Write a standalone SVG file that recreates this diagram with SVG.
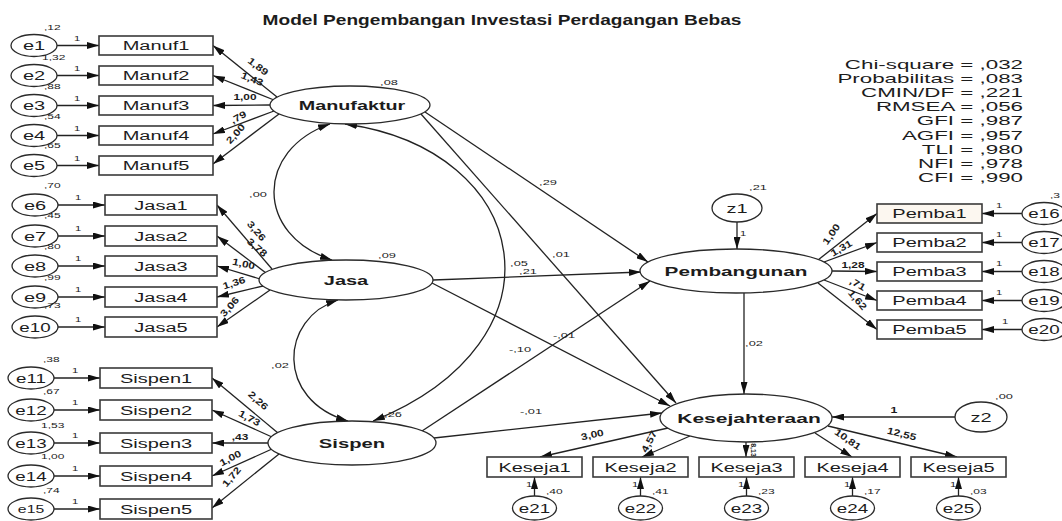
<svg xmlns="http://www.w3.org/2000/svg" width="1062" height="521" viewBox="0 0 1062 521">
<defs>
<style>
text{font-family:"Liberation Sans",Arial,Helvetica,sans-serif;fill:#1c1c1c}
.n{font-size:12.5px;text-anchor:middle}
.b{font-size:12.5px;font-weight:bold;text-anchor:middle}
.s{font-size:8px}
.sm{font-size:8px;text-anchor:middle}
.l{font-size:9.5px;font-weight:bold;text-anchor:middle}
.st{font-size:13px;text-anchor:end}
.box{fill:#fff;stroke:#3a3a3a;stroke-width:1.6}
.ov{fill:#fff;stroke:#2a2a2a;stroke-width:1.3}
.c{fill:none;stroke:#222;stroke-width:1.3;marker-end:url(#ah)}
.cv{fill:none;stroke:#222;stroke-width:1.3;marker-end:url(#ah);marker-start:url(#ah)}
</style>
<marker id="ah" markerUnits="userSpaceOnUse" markerWidth="12" markerHeight="7" refX="12" refY="3.5" orient="auto-start-reverse">
<path d="M0,0 L12,3.5 L0,7 z" fill="#111"/>
</marker>
</defs>
<rect width="1062" height="521" fill="#fff"/>

<text class="b" transform="translate(502 25) scale(1.275 1)" style="font-size:15px">Model Pengembangan Investasi Perdagangan Bebas</text>

<g id="fit" transform="translate(1023 0) scale(1.72 1)">
<text class="st" x="0" y="69">Chi-square = ,032</text>
<text class="st" x="0" y="83">Probabilitas = ,083</text>
<text class="st" x="0" y="97">CMIN/DF = ,221</text>
<text class="st" x="0" y="111.5">RMSEA = ,056</text>
<text class="st" x="0" y="125.5">GFI = ,987</text>
<text class="st" x="0" y="140">AGFI = ,957</text>
<text class="st" x="0" y="154">TLI = ,980</text>
<text class="st" x="0" y="168">NFI = ,978</text>
<text class="st" x="0" y="182.5">CFI = ,990</text>
</g>

<g id="connectors">
<path class="c" d="M57,45.5 H99"/>
<path class="c" d="M57,75.5 H99"/>
<path class="c" d="M57,105.5 H99"/>
<path class="c" d="M57,135.5 H99"/>
<path class="c" d="M57,165.5 H99"/>
<path class="c" d="M58,205 H105"/>
<path class="c" d="M58,236 H105"/>
<path class="c" d="M58,266 H105"/>
<path class="c" d="M58,297 H105"/>
<path class="c" d="M58,327 H105"/>
<path class="c" d="M54,378 H100"/>
<path class="c" d="M54,410 H100"/>
<path class="c" d="M54,443 H100"/>
<path class="c" d="M54,476 H100"/>
<path class="c" d="M54,509 H100"/>
<path class="c" d="M1022,213.5 H982"/>
<path class="c" d="M1022,242.5 H982"/>
<path class="c" d="M1022,271.5 H982"/>
<path class="c" d="M1022,300.5 H982"/>
<path class="c" d="M1022,329.5 H982"/>
<path class="c" d="M534.5,496 V477"/>
<path class="c" d="M640.5,496 V477"/>
<path class="c" d="M746.5,496 V477"/>
<path class="c" d="M852.5,496 V477"/>
<path class="c" d="M958.5,496 V477"/>
<path class="c" d="M277,97 L213,45.5"/>
<path class="c" d="M274,100 L213,75.5"/>
<path class="c" d="M270,105 L213,105.5"/>
<path class="c" d="M274,111 L213,134"/>
<path class="c" d="M279,114 L213,164"/>
<path class="c" d="M272,269 L217,205"/>
<path class="c" d="M266,273 L217,236"/>
<path class="c" d="M260,279 L217,266"/>
<path class="c" d="M263,286 L217,297"/>
<path class="c" d="M270,290 L217,327"/>
<path class="c" d="M278,433 L212,378"/>
<path class="c" d="M272,437 L212,410"/>
<path class="c" d="M268,443 L212,443"/>
<path class="c" d="M272,449 L212,476"/>
<path class="c" d="M279,454 L212,508"/>
<path class="c" d="M818,260 L877,213.5"/>
<path class="c" d="M824,262 L877,242.5"/>
<path class="c" d="M832,271 L877,271.5"/>
<path class="c" d="M824,280 L877,300.5"/>
<path class="c" d="M818,283 L877,329.5"/>
<path class="c" d="M668,428 L540,457"/>
<path class="c" d="M690,436 L642,457"/>
<path class="c" d="M746,442 L746,457"/>
<path class="c" d="M815,433 L852,457"/>
<path class="c" d="M828,426 L957,457"/>
<path class="c" d="M425,112 L648,262"/>
<path class="c" d="M421,114 L676,403"/>
<path class="c" d="M433,280 L641,272"/>
<path class="c" d="M432,283 L670,406"/>
<path class="c" d="M422,431 L650,281"/>
<path class="c" d="M434,438 L662,413"/>
<path class="c" d="M744,293 L744,394"/>
<path class="c" d="M737,222 L737,249"/>
<path class="c" d="M955,417 L832,417"/>
<path class="cv" d="M330,124 C255,150 255,235 332,260"/>
<path class="cv" d="M338,300 C280,318 275,400 348,421"/>
<path class="cv" d="M345,124 C532,150 572,340 373,421"/>
</g>

<g id="conn-labels">
<text class="sm" transform="translate(77 41) scale(1.4 1)">1</text>
<text class="sm" transform="translate(77 71) scale(1.4 1)">1</text>
<text class="sm" transform="translate(77 101) scale(1.4 1)">1</text>
<text class="sm" transform="translate(77 131) scale(1.4 1)">1</text>
<text class="sm" transform="translate(77 161) scale(1.4 1)">1</text>
<text class="sm" transform="translate(78 200) scale(1.4 1)">1</text>
<text class="sm" transform="translate(78 231) scale(1.4 1)">1</text>
<text class="sm" transform="translate(78 261) scale(1.4 1)">1</text>
<text class="sm" transform="translate(78 292) scale(1.4 1)">1</text>
<text class="sm" transform="translate(78 322) scale(1.4 1)">1</text>
<text class="sm" transform="translate(75 373) scale(1.4 1)">1</text>
<text class="sm" transform="translate(75 405) scale(1.4 1)">1</text>
<text class="sm" transform="translate(75 438) scale(1.4 1)">1</text>
<text class="sm" transform="translate(75 471) scale(1.4 1)">1</text>
<text class="sm" transform="translate(75 504) scale(1.4 1)">1</text>
<text class="sm" transform="translate(999 208) scale(1.4 1)">1</text>
<text class="sm" transform="translate(999 237) scale(1.4 1)">1</text>
<text class="sm" transform="translate(999 266) scale(1.4 1)">1</text>
<text class="sm" transform="translate(999 295) scale(1.4 1)">1</text>
<text class="sm" transform="translate(1005 324) scale(1.4 1)">1</text>
<text class="sm" transform="translate(529 487) scale(1.4 1)">1</text>
<text class="sm" transform="translate(635 487) scale(1.4 1)">1</text>
<text class="sm" transform="translate(741 487) scale(1.4 1)">1</text>
<text class="sm" transform="translate(847 487) scale(1.4 1)">1</text>
<text class="sm" transform="translate(953 487) scale(1.4 1)">1</text>

<text class="l" transform="translate(256 69) rotate(38) scale(1.25 1)">1,89</text>
<text class="l" transform="translate(251 82) rotate(22) scale(1.25 1)">1,43</text>
<text class="l" transform="translate(245 100) scale(1.25 1)">1,00</text>
<text class="l" transform="translate(240 120) rotate(-30) scale(1.25 1)">,79</text>
<text class="l" transform="translate(238 136) rotate(-48) scale(1.25 1)">2,00</text>

<text class="l" transform="translate(254 233) rotate(50) scale(1.25 1)">3,26</text>
<text class="l" transform="translate(255 250) rotate(40) scale(1.25 1)">3,78</text>
<text class="l" transform="translate(243 267) rotate(12) scale(1.25 1)">1,00</text>
<text class="l" transform="translate(235 286) rotate(-18) scale(1.25 1)">1,36</text>
<text class="l" transform="translate(232 309) rotate(-48) scale(1.25 1)">3,06</text>

<text class="l" transform="translate(256 403) rotate(42) scale(1.25 1)">2,26</text>
<text class="l" transform="translate(248 421) rotate(28) scale(1.25 1)">1,73</text>
<text class="l" transform="translate(240 440) scale(1.25 1)">,43</text>
<text class="l" transform="translate(232 461) rotate(-28) scale(1.25 1)">1,00</text>
<text class="l" transform="translate(234 479) rotate(-50) scale(1.25 1)">1,72</text>

<text class="l" transform="translate(834 236) rotate(-55) scale(1.25 1)">1,00</text>
<text class="l" transform="translate(843 251) rotate(-30) scale(1.25 1)">1,31</text>
<text class="l" transform="translate(853 268) scale(1.25 1)">1,28</text>
<text class="l" transform="translate(856 287) rotate(30) scale(1.25 1)">,71</text>
<text class="l" transform="translate(855 302) rotate(50) scale(1.25 1)">1,62</text>

<text class="l" transform="translate(593 438) rotate(-13) scale(1.25 1)">3,00</text>
<text class="l" transform="translate(652 443) rotate(-62) scale(1.25 1)">4,57</text>
<text class="l" transform="translate(751 450) rotate(90)" style="font-size:7px">8,13</text>
<text class="l" transform="translate(846 442) rotate(35) scale(1.25 1)">10,81</text>
<text class="l" transform="translate(901 437) rotate(14) scale(1.25 1)">12,55</text>

<text class="sm" transform="translate(548 185) scale(1.6 1)">,29</text>
<text class="sm" transform="translate(561 257) scale(1.6 1)">,01</text>
<text class="sm" transform="translate(519 266) scale(1.6 1)">,05</text>
<text class="sm" transform="translate(528 274) scale(1.6 1)">,21</text>
<text class="sm" transform="translate(564 338) scale(1.6 1)">-,01</text>
<text class="sm" transform="translate(520 352) scale(1.6 1)">-,10</text>
<text class="sm" transform="translate(531 414) scale(1.6 1)">-,01</text>
<text class="sm" transform="translate(754 346) scale(1.6 1)">,02</text>
<text class="sm" transform="translate(743 236) scale(1.4 1)">1</text>
<text class="l" transform="translate(894 413) scale(1.3 1)">1</text>
<text class="sm" transform="translate(258 197) scale(1.6 1)">,00</text>
<text class="sm" transform="translate(280 368) scale(1.6 1)">,02</text>
</g>

<g id="e1"><ellipse class="ov" cx="34" cy="45.5" rx="23" ry="11"/><text class="n" transform="translate(34 50) scale(1.6 1)">e1</text><text class="s" transform="translate(44 30) scale(1.5 1)">,12</text></g>
<g id="e2"><ellipse class="ov" cx="34" cy="75.5" rx="23" ry="11"/><text class="n" transform="translate(34 80) scale(1.6 1)">e2</text><text class="s" transform="translate(42 60) scale(1.5 1)">1,32</text></g>
<g id="e3"><ellipse class="ov" cx="34" cy="105.5" rx="23" ry="11"/><text class="n" transform="translate(34 110) scale(1.6 1)">e3</text><text class="s" transform="translate(44 89) scale(1.5 1)">,88</text></g>
<g id="e4"><ellipse class="ov" cx="34" cy="135.5" rx="23" ry="11"/><text class="n" transform="translate(34 140) scale(1.6 1)">e4</text><text class="s" transform="translate(44 119) scale(1.5 1)">,54</text></g>
<g id="e5"><ellipse class="ov" cx="34" cy="165.5" rx="23" ry="11"/><text class="n" transform="translate(34 170) scale(1.6 1)">e5</text><text class="s" transform="translate(44 148) scale(1.5 1)">,65</text></g>
<g id="e6"><ellipse class="ov" cx="35" cy="205" rx="23" ry="11"/><text class="n" transform="translate(35 209.5) scale(1.6 1)">e6</text><text class="s" transform="translate(44 188) scale(1.5 1)">,70</text></g>
<g id="e7"><ellipse class="ov" cx="35" cy="236" rx="23" ry="11"/><text class="n" transform="translate(35 240.5) scale(1.6 1)">e7</text><text class="s" transform="translate(44 218) scale(1.5 1)">,45</text></g>
<g id="e8"><ellipse class="ov" cx="35" cy="266" rx="23" ry="11"/><text class="n" transform="translate(35 270.5) scale(1.6 1)">e8</text><text class="s" transform="translate(44 249) scale(1.5 1)">,80</text></g>
<g id="e9"><ellipse class="ov" cx="35" cy="297" rx="23" ry="11"/><text class="n" transform="translate(35 301.5) scale(1.6 1)">e9</text><text class="s" transform="translate(44 280) scale(1.5 1)">,99</text></g>
<g id="e10"><ellipse class="ov" cx="35" cy="327" rx="23" ry="11"/><text class="n" transform="translate(35 331.5) scale(1.5 1)">e10</text><text class="s" transform="translate(44 308) scale(1.5 1)">,73</text></g>
<g id="e11"><ellipse class="ov" cx="31" cy="378" rx="23" ry="11"/><text class="n" transform="translate(31 382.5) scale(1.5 1)">e11</text><text class="s" transform="translate(43 362) scale(1.5 1)">,38</text></g>
<g id="e12"><ellipse class="ov" cx="31" cy="410" rx="23" ry="11"/><text class="n" transform="translate(31 414.5) scale(1.5 1)">e12</text><text class="s" transform="translate(43 394) scale(1.5 1)">,67</text></g>
<g id="e13"><ellipse class="ov" cx="31" cy="443" rx="23" ry="11"/><text class="n" transform="translate(31 447.5) scale(1.5 1)">e13</text><text class="s" transform="translate(41 428) scale(1.5 1)">1,53</text></g>
<g id="e14"><ellipse class="ov" cx="31" cy="476" rx="23" ry="11"/><text class="n" transform="translate(31 480.5) scale(1.5 1)">e14</text><text class="s" transform="translate(41 459) scale(1.5 1)">1,00</text></g>
<g id="e15"><ellipse class="ov" cx="31" cy="509" rx="23" ry="11"/><text class="n" transform="translate(31 513) scale(1.5 1)" style="font-size:10.5px">e15</text><text class="s" transform="translate(43 493) scale(1.5 1)">,74</text></g>

<g id="Manuf1"><rect class="box" x="99" y="36" width="114" height="19"/><text class="n" transform="translate(156 50) scale(1.6 1)">Manuf1</text></g>
<g id="Manuf2"><rect class="box" x="99" y="66" width="114" height="19"/><text class="n" transform="translate(156 80) scale(1.6 1)">Manuf2</text></g>
<g id="Manuf3"><rect class="box" x="99" y="96" width="114" height="19"/><text class="n" transform="translate(156 110) scale(1.6 1)">Manuf3</text></g>
<g id="Manuf4"><rect class="box" x="99" y="126" width="114" height="19"/><text class="n" transform="translate(156 140) scale(1.6 1)">Manuf4</text></g>
<g id="Manuf5"><rect class="box" x="99" y="156" width="114" height="19"/><text class="n" transform="translate(156 170) scale(1.6 1)">Manuf5</text></g>

<g id="Jasa1"><rect class="box" x="105" y="195" width="112" height="20"/><text class="n" transform="translate(161 209.5) scale(1.6 1)">Jasa1</text></g>
<g id="Jasa2"><rect class="box" x="105" y="226" width="112" height="20"/><text class="n" transform="translate(161 240.5) scale(1.6 1)">Jasa2</text></g>
<g id="Jasa3"><rect class="box" x="105" y="256" width="112" height="20"/><text class="n" transform="translate(161 270.5) scale(1.6 1)">Jasa3</text></g>
<g id="Jasa4"><rect class="box" x="105" y="287" width="112" height="20"/><text class="n" transform="translate(161 301.5) scale(1.6 1)">Jasa4</text></g>
<g id="Jasa5"><rect class="box" x="105" y="317" width="112" height="20"/><text class="n" transform="translate(161 331.5) scale(1.6 1)">Jasa5</text></g>

<g id="Sispen1"><rect class="box" x="100" y="368" width="112" height="20"/><text class="n" transform="translate(156 382.5) scale(1.6 1)">Sispen1</text></g>
<g id="Sispen2"><rect class="box" x="100" y="400" width="112" height="20"/><text class="n" transform="translate(156 414.5) scale(1.6 1)">Sispen2</text></g>
<g id="Sispen3"><rect class="box" x="100" y="433" width="112" height="20"/><text class="n" transform="translate(156 447.5) scale(1.6 1)">Sispen3</text></g>
<g id="Sispen4"><rect class="box" x="100" y="466" width="112" height="20"/><text class="n" transform="translate(156 480.5) scale(1.6 1)">Sispen4</text></g>
<g id="Sispen5"><rect class="box" x="100" y="499" width="112" height="20"/><text class="n" transform="translate(156 513.5) scale(1.6 1)">Sispen5</text></g>

<g id="Manufaktur"><ellipse class="ov" cx="350" cy="105" rx="80" ry="19"/><text class="b" transform="translate(352 109.5) scale(1.58 1)">Manufaktur</text><text class="sm" transform="translate(389 85) scale(1.6 1)">,08</text></g>
<g id="Jasa"><ellipse class="ov" cx="346" cy="280" rx="87" ry="20"/><text class="b" transform="translate(346 284.5) scale(1.6 1)">Jasa</text><text class="sm" transform="translate(387 258) scale(1.6 1)">,09</text></g>
<g id="Sispen"><ellipse class="ov" cx="352" cy="443" rx="84" ry="22"/><text class="b" transform="translate(352 448) scale(1.62 1)">Sispen</text><text class="sm" transform="translate(393 417) scale(1.6 1)">,26</text></g>

<g id="z1"><ellipse class="ov" cx="737" cy="208" rx="25" ry="14"/><text class="n" transform="translate(737 212.5) scale(1.6 1)">z1</text><text class="sm" transform="translate(758 190) scale(1.6 1)">,21</text></g>
<g id="Pembangunan"><ellipse class="ov" cx="736" cy="271" rx="96" ry="22"/><text class="b" transform="translate(736 275.5) scale(1.66 1)">Pembangunan</text></g>

<g id="Pemba1"><rect class="box" x="877" y="204" width="105" height="19" style="fill:#fcf7f0"/><text class="n" transform="translate(929.5 218) scale(1.6 1)">Pemba1</text></g>
<g id="Pemba2"><rect class="box" x="877" y="233" width="105" height="19"/><text class="n" transform="translate(929.5 247) scale(1.6 1)">Pemba2</text></g>
<g id="Pemba3"><rect class="box" x="877" y="262" width="105" height="19"/><text class="n" transform="translate(929.5 276) scale(1.6 1)">Pemba3</text></g>
<g id="Pemba4"><rect class="box" x="877" y="291" width="105" height="19"/><text class="n" transform="translate(929.5 305) scale(1.6 1)">Pemba4</text></g>
<g id="Pemba5"><rect class="box" x="877" y="320" width="105" height="19"/><text class="n" transform="translate(929.5 334) scale(1.6 1)">Pemba5</text></g>

<g id="e16"><ellipse class="ov" cx="1044" cy="213.5" rx="22" ry="11"/><text class="n" transform="translate(1044 218) scale(1.5 1)">e16</text><text class="s" transform="translate(1050 198) scale(1.5 1)">,3</text></g>
<g id="e17"><ellipse class="ov" cx="1044" cy="242.5" rx="22" ry="11"/><text class="n" transform="translate(1044 247) scale(1.5 1)">e17</text></g>
<g id="e18"><ellipse class="ov" cx="1044" cy="271.5" rx="22" ry="11"/><text class="n" transform="translate(1044 276) scale(1.5 1)">e18</text></g>
<g id="e19"><ellipse class="ov" cx="1044" cy="300.5" rx="22" ry="11"/><text class="n" transform="translate(1044 305) scale(1.5 1)">e19</text></g>
<g id="e20"><ellipse class="ov" cx="1044" cy="329.5" rx="22" ry="11"/><text class="n" transform="translate(1044 334) scale(1.5 1)">e20</text></g>

<g id="Kesejahteraan"><ellipse class="ov" cx="746" cy="418" rx="86" ry="24"/><text class="b" transform="translate(749 422.5) scale(1.68 1)">Kesejahteraan</text></g>
<g id="z2"><ellipse class="ov" cx="981" cy="417" rx="26" ry="15"/><text class="n" transform="translate(981 421.5) scale(1.6 1)">z2</text><text class="sm" transform="translate(1004 399) scale(1.6 1)">,00</text></g>

<g id="Keseja1"><rect class="box" x="487" y="457" width="95" height="20"/><text class="n" transform="translate(534.5 471.5) scale(1.6 1)">Keseja1</text></g>
<g id="Keseja2"><rect class="box" x="593" y="457" width="95" height="20"/><text class="n" transform="translate(640.5 471.5) scale(1.6 1)">Keseja2</text></g>
<g id="Keseja3"><rect class="box" x="699" y="457" width="95" height="20"/><text class="n" transform="translate(746.5 471.5) scale(1.6 1)">Keseja3</text></g>
<g id="Keseja4"><rect class="box" x="805" y="457" width="95" height="20"/><text class="n" transform="translate(852.5 471.5) scale(1.6 1)">Keseja4</text></g>
<g id="Keseja5"><rect class="box" x="911" y="457" width="95" height="20"/><text class="n" transform="translate(958.5 471.5) scale(1.6 1)">Keseja5</text></g>

<g id="e21"><ellipse class="ov" cx="534.5" cy="508" rx="22" ry="12"/><text class="n" transform="translate(534.5 512.5) scale(1.5 1)">e21</text><text class="s" transform="translate(546 494) scale(1.5 1)">,40</text></g>
<g id="e22"><ellipse class="ov" cx="640.5" cy="508" rx="22" ry="12"/><text class="n" transform="translate(640.5 512.5) scale(1.5 1)">e22</text><text class="s" transform="translate(652 494) scale(1.5 1)">,41</text></g>
<g id="e23"><ellipse class="ov" cx="746.5" cy="508" rx="22" ry="12"/><text class="n" transform="translate(746.5 512.5) scale(1.5 1)">e23</text><text class="s" transform="translate(758 494) scale(1.5 1)">,23</text></g>
<g id="e24"><ellipse class="ov" cx="852.5" cy="508" rx="22" ry="12"/><text class="n" transform="translate(852.5 512.5) scale(1.5 1)">e24</text><text class="s" transform="translate(864 494) scale(1.5 1)">,17</text></g>
<g id="e25"><ellipse class="ov" cx="958.5" cy="508" rx="22" ry="12"/><text class="n" transform="translate(958.5 512.5) scale(1.5 1)">e25</text><text class="s" transform="translate(970 494) scale(1.5 1)">,03</text></g>
</svg>
